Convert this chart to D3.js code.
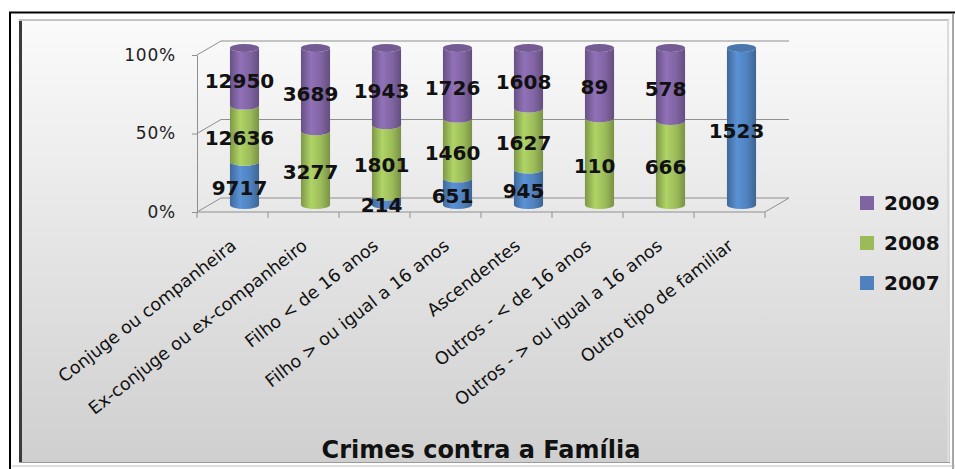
<!DOCTYPE html>
<html>
<head>
<meta charset="utf-8">
<script src="https://cdn.jsdelivr.net/npm/d3@7"></script>
<style>
  body { margin: 0; background: #fff; }
  svg { display: block; font-family: 'DejaVu Sans', sans-serif; }
</style>
</head>
<body>
<svg width="955" height="469"></svg>
<script>
// data
var categories = ['Conjuge ou companheira', 'Ex-conjuge ou ex-companheiro', 'Filho < de 16 anos',
    'Filho > ou igual a 16 anos', 'Ascendentes', 'Outros - < de 16 anos',
    'Outros - > ou igual a 16 anos', 'Outro tipo de familiar'];
var years = ['2007', '2008', '2009'];
var v2007 = [9717, 0, 214, 651, 945, 0, 0, 1523];
var v2008 = [12636, 3277, 1801, 1460, 1627, 110, 666, 0];
var v2009 = [12950, 3689, 1943, 1726, 1608, 89, 578, 0];
var yTicks = [0, 0.5, 1];
var colors = { '2007': '#4F81BD', '2008': '#9BBB59', '2009': '#8064A2' };
var chartTitle = 'Crimes contra a Família';

var rows = categories.map(function (c, i) {
    return { cat: c, '2007': v2007[i], '2008': v2008[i], '2009': v2009[i] };
});
var series = d3.stack().keys(years).offset(d3.stackOffsetExpand)(rows);

var svg = d3.select('svg');
var defs = svg.append('defs');

// panel background
var bg = defs.append('linearGradient').attr('id', 'bgGrad')
    .attr('x1', 0).attr('y1', 0).attr('x2', 0).attr('y2', 1);
bg.append('stop').attr('offset', '0%').attr('stop-color', '#fbfbfb');
bg.append('stop').attr('offset', '100%').attr('stop-color', '#cfcfcf');

// cylinder shading per series
years.forEach(function (y) {
    var base = d3.color(colors[y]);
    var g = defs.append('linearGradient').attr('id', 'cyl' + y)
        .attr('x1', 0).attr('y1', 0).attr('x2', 1).attr('y2', 0);
    g.append('stop').attr('offset', '0%').attr('stop-color', base.darker(0.6));
    g.append('stop').attr('offset', '35%').attr('stop-color', base.brighter(0.35));
    g.append('stop').attr('offset', '70%').attr('stop-color', base);
    g.append('stop').attr('offset', '100%').attr('stop-color', base.darker(0.7));
});

// frame
svg.append('rect').attr('x', 19).attr('y', 19).attr('width', 931).attr('height', 444)
    .attr('fill', 'url(#bgGrad)');
svg.append('path').attr('d', 'M10,469 V12.5 H955').attr('fill', 'none')
    .attr('stroke', '#000').attr('stroke-width', 2);
svg.append('path').attr('d', 'M19,20 H949').attr('stroke', '#c4c4c4').attr('stroke-width', 2);
svg.append('path').attr('d', 'M20.5,21 V463').attr('stroke', '#3a3a3a').attr('stroke-width', 3);
svg.append('path').attr('d', 'M948,20 V463').attr('stroke', '#dcdcdc').attr('stroke-width', 2);
svg.append('path').attr('d', 'M953,14 V469').attr('stroke', '#8a8a8a').attr('stroke-width', 1.5);
svg.append('path').attr('d', 'M19,462.5 H950').attr('stroke', '#9a9a9a').attr('stroke-width', 1);
svg.append('path').attr('d', 'M12,466 H955').attr('stroke', '#bdbdbd').attr('stroke-width', 1);

// scales
var x = d3.scaleBand().domain(categories).range([197, 765]);
var yFront = d3.scaleLinear().domain([0, 1]).range([212, 55]);
var depth = { dx: 24, dy: -14 };
var backRight = 789;
var yCyl = d3.scaleLinear().domain([0, 1]).range([212 + depth.dy / 2, 55 + depth.dy / 2]);
var cylW = x.bandwidth() * 0.41;
var ry = 4;
function cx(c) { return x(c) + x.bandwidth() / 2 + depth.dx / 2; }

// 3d walls and gridlines
var wallColor = '#8f8f8f';
var walls = svg.append('g').attr('fill', 'none').attr('stroke', wallColor).attr('stroke-width', 1);
yTicks.forEach(function (t) {
    var y0 = yFront(t);
    walls.append('path').attr('d', 'M' + x.range()[0] + ',' + y0 +
        ' L' + (x.range()[0] + depth.dx) + ',' + (y0 + depth.dy) + ' H' + backRight);
});
walls.append('path').attr('d', 'M' + x.range()[0] + ',' + yFront(0) + ' H' + x.range()[1] +
    ' L' + backRight + ',' + (yFront(0) + depth.dy));

// y axis
var yAxis = svg.append('g').attr('transform', 'translate(' + x.range()[0] + ',0)')
    .call(d3.axisLeft(yFront).tickValues(yTicks).tickFormat(d3.format('.0%')).tickSize(5).tickSizeOuter(0));
yAxis.select('.domain').attr('stroke', wallColor);
yAxis.selectAll('.tick line').attr('stroke', wallColor);
yAxis.selectAll('.tick text').attr('x', -21).attr('fill', '#222')
    .style('font-size', '17px').style('letter-spacing', '0.8px').style('font-family', 'DejaVu Sans');

// x ticks at the band edges
var xEdges = categories.map(function (c) { return x(c); }).concat([x.range()[1]]);
svg.append('g').selectAll('line').data(xEdges).join('line')
    .attr('x1', function (d) { return d; }).attr('x2', function (d) { return d; })
    .attr('y1', yFront(0)).attr('y2', yFront(0) + 6)
    .attr('stroke', wallColor);

// category labels
svg.append('g').selectAll('text').data(categories).join('text')
    .attr('transform', function (d) {
        return 'translate(' + (x(d) + x.bandwidth() / 2 + 5) + ',248) rotate(-38)';
    })
    .attr('text-anchor', 'end')
    .style('font-size', '17.5px')
    .attr('fill', '#111')
    .text(function (d) { return d; });

// cylinders
function segPath(c, y0, y1) {
    var l = cx(c) - cylW / 2, r = cx(c) + cylW / 2;
    var yb = yCyl(y0), yt = yCyl(y1);
    return 'M' + l + ',' + yt + ' A' + cylW / 2 + ',' + ry + ' 0 0 0 ' + r + ',' + yt +
        ' L' + r + ',' + yb + ' A' + cylW / 2 + ',' + ry + ' 0 0 1 ' + l + ',' + yb + ' Z';
}

var cyl = svg.append('g');
series.forEach(function (s) {
    cyl.append('g').selectAll('path').data(s.filter(function (d) { return d[1] - d[0] > 0; }))
        .join('path')
        .attr('d', function (d) { return segPath(d.data.cat, d[0], d[1]); })
        .attr('fill', 'url(#cyl' + s.key + ')');
});
// top caps
var topKey = categories.map(function (c, i) {
    var k = years.filter(function (y) { return rows[i][y] > 0; });
    return k[k.length - 1];
});
cyl.append('g').selectAll('ellipse').data(categories).join('ellipse')
    .attr('cx', function (d) { return cx(d); })
    .attr('cy', yCyl(1))
    .attr('rx', cylW / 2).attr('ry', ry)
    .attr('fill', function (d, i) { return d3.color(colors[topKey[i]]).darker(0.25); });

// value labels
var labels = svg.append('g').style('font-size', '20px').style('font-weight', 'bold')
    .attr('text-anchor', 'middle').attr('fill', '#111');
series.forEach(function (s) {
    labels.append('g').selectAll('text').data(s.filter(function (d) { return d.data[s.key] > 0; }))
        .join('text')
        .attr('x', function (d) { return cx(d.data.cat) - 5; })
        .attr('y', function (d) { return yCyl((d[0] + d[1]) / 2) + 4; })
        .attr('dy', '0.36em')
        .text(function (d) { return d.data[s.key]; });
});

// legend
var legendYears = years.slice().reverse();
var legend = svg.append('g').selectAll('g').data(legendYears).join('g')
    .attr('transform', function (d, i) { return 'translate(860,' + (203 + i * 40) + ')'; });
legend.append('rect').attr('x', 0).attr('y', -7).attr('width', 14).attr('height', 14)
    .attr('fill', function (d) { return colors[d]; });
legend.append('text').attr('x', 24).attr('dy', '0.36em')
    .style('font-size', '20px').style('font-weight', 'bold').attr('fill', '#111')
    .text(function (d) { return d; });

// title
svg.append('text').attr('x', 481).attr('y', 458).attr('text-anchor', 'middle')
    .style('font-size', '24px').style('font-weight', 'bold').attr('fill', '#111')
    .text(chartTitle);
</script>
</body>
</html>
